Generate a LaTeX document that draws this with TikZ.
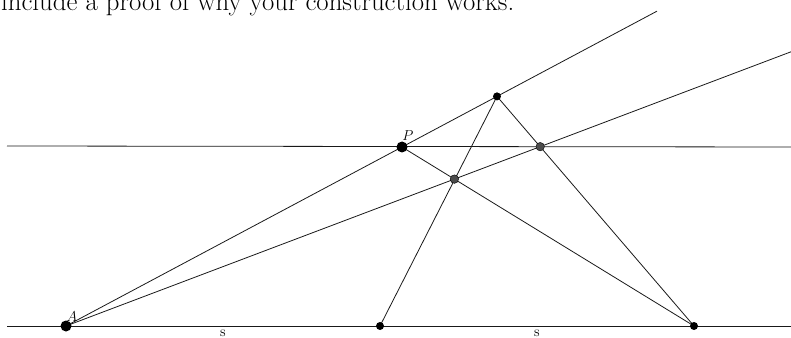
\documentclass[tikz,border=0pt]{standalone}
\usetikzlibrary{calc}
\begin{document}
\begin{tikzpicture}[x=1pt,y=1pt,
  ln/.style={line width=0.8pt, black!90},
  bigdot/.style={circle, fill=black, inner sep=0pt, minimum size=11pt},
  smalldot/.style={circle, fill=black, inner sep=0pt, minimum size=8pt},
  graydot/.style={circle, draw=black, line width=0.4pt, fill=black!70, inner sep=0pt, minimum size=8.5pt},
  lbl/.style={font=\fontsize{14.5}{16}\selectfont, inner sep=0pt}]
\useasboundingbox (0,0) rectangle (791,337);
\clip (0,0) rectangle (791,337);
\node[anchor=base west, font=\fontsize{26.8}{30}\selectfont, inner sep=0pt] (txt) at (1,326.5) {include a proof of why your construction works.};
% points
\coordinate (A) at (66,11);
\coordinate (B) at (694,11);
\coordinate (M) at ($(A)!0.5!(B)$);
\coordinate (P) at (402,190);
\coordinate (R) at ($(A)!1.2827!(P)$);
\coordinate (L1) at (7,11);
\coordinate (L2) at (791,11);
\coordinate (H1) at (7,191);
\coordinate (H2) at (791,190);
\coordinate (Q) at (intersection of R--B and H1--H2);
\coordinate (X) at (intersection of A--Q and P--B);
\coordinate (E1) at ($(A)!1.759!(P)$);
\coordinate (E2) at ($(A)!1.5295!(Q)$);
% lines
\draw[ln] (L1) -- (L2);
\draw[ln] (H1) -- (H2);
\draw[ln] (A) -- (E1);
\draw[ln] (A) -- (E2);
\draw[ln] (M) -- (R);
\draw[ln] (R) -- (B);
\draw[ln] (P) -- (B);
% dots
\node[bigdot] (dA) at (A) {};
\node[bigdot] (dP) at (P) {};
\node[smalldot] (dM) at (M) {};
\node[smalldot] (dB) at (B) {};
\node[smalldot] (dR) at (R) {};
\node[graydot] (dQ) at (Q) {};
\node[graydot] (dX) at (X) {};
% labels
\node[lbl] (lA) at (72,20) {$A$};
\node[lbl] (lP) at (408,201) {$P$};
\node[lbl, anchor=north] (s1) at ($(A)!0.5!(M)+(0,-4)$) {s};
\node[lbl, anchor=north] (s2) at ($(M)!0.5!(B)+(0,-4)$) {s};
\end{tikzpicture}
\end{document}
